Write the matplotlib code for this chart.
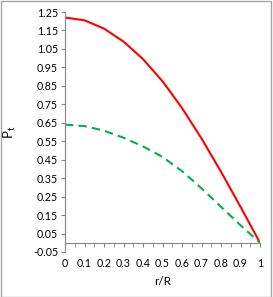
import matplotlib
matplotlib.use('Agg')
import matplotlib.pyplot as plt
from matplotlib.patches import Rectangle
import numpy as np

# values
r_over_R = [0.0, 0.1, 0.2, 0.3, 0.4, 0.5, 0.6, 0.7, 0.8, 0.9, 1.0]
pt_red = [1.22, 1.205, 1.16, 1.09, 0.995, 0.875, 0.73, 0.565, 0.385, 0.195, 0.0]
pt_green = [0.64, 0.632, 0.607, 0.569, 0.522, 0.465, 0.388, 0.295, 0.195, 0.095, 0.0]

x_labels = ['0', '0.1', '0.2', '0.3', '0.4', '0.5', '0.6', '0.7', '0.8', '0.9', '1']
y_ticks = [-0.05, 0.05, 0.15, 0.25, 0.35, 0.45, 0.55, 0.65, 0.75, 0.85, 0.95, 1.05, 1.15, 1.25]

plt.rcParams['font.family'] = ['Lato', 'DejaVu Sans']
plt.rcParams['mathtext.fontset'] = 'custom'
plt.rcParams['mathtext.rm'] = 'Lato'
fs = 7.7
grey = '#868686'

fig = plt.figure(figsize=(2.73, 2.97), dpi=100)
ax = fig.add_axes([65 / 273, 1 - 252 / 297, 195 / 273, 240 / 297])

ax.plot(r_over_R, pt_red, color='#FF0000', lw=1.5, solid_capstyle='butt')
ax.plot(r_over_R, pt_green, color='#00B050', lw=1.5, dashes=(4, 2.5))

ax.set_xlim(0, 1)
ax.set_ylim(-0.05, 1.25)

ax.spines['top'].set_visible(False)
ax.spines['right'].set_visible(False)
ax.spines['left'].set_color(grey)
ax.spines['bottom'].set_color(grey)
ax.spines['bottom'].set_position(('data', 0))

ax.set_xticks(r_over_R)
ax.set_xticklabels(x_labels)
ax.set_xticks(np.arange(0.05, 1.0, 0.1), minor=True)
ax.set_yticks(y_ticks)
ax.set_yticklabels([f'{v:.2f}' for v in y_ticks])

ax.tick_params(axis='x', which='both', direction='out', length=3, color=grey,
               labelsize=fs, pad=8)
ax.tick_params(axis='y', direction='out', length=3, color=grey, labelsize=fs, pad=2)

ax.set_xlabel('r/R', fontsize=fs + 0.8)
ax.xaxis.set_label_coords(0.5, -0.1)
ax.set_ylabel('P$_\\mathrm{t}$', fontsize=fs + 2)
ax.yaxis.set_label_coords(-0.24, 0.5)

fig.patches.append(Rectangle((0.5 / 273, 0.5 / 297), 1 - 3 / 273, 1 - 1.5 / 297,
                             transform=fig.transFigure, fill=False,
                             edgecolor='#A6A6A6', lw=1))

fig.savefig('out.png', dpi=100)
